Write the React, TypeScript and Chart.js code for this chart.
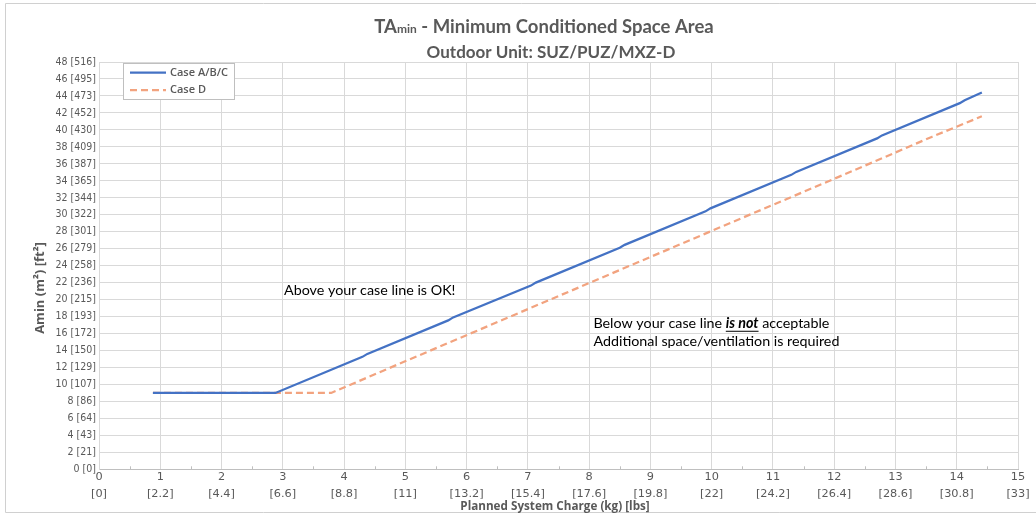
import React, { useEffect, useRef } from 'react';
import { Chart, registerables } from 'chart.js';

Chart.register(...registerables);

// ---- data ----
const chargeABC = [0.88, 2.88, 4.3, 4.38, 5.7, 5.78, 7.05, 7.13, 8.5, 8.58, 9.9, 9.98, 11.3, 11.38, 12.7, 12.78, 14.05, 14.13, 14.41];
const areaABC = [9, 9, 13.25, 13.6, 17.55, 17.9, 21.65, 22.0, 26.1, 26.45, 30.4, 30.75, 34.7, 35.05, 39.0, 39.35, 43.15, 43.5, 44.4];
const chargeD = [0.88, 3.79, 5.2, 6.6, 8.0, 9.4, 10.8, 12.2, 13.6, 14.41];
const areaD = [9, 9, 13.35, 17.65, 21.95, 26.25, 30.55, 34.85, 39.2, 41.6];

const seriesLabels = ['Case A/B/C', 'Case D'];

const xTicksKg = [0, 1, 2, 3, 4, 5, 6, 7, 8, 9, 10, 11, 12, 13, 14, 15];
const xTicksLbs = ['0', '2.2', '4.4', '6.6', '8.8', '11', '13.2', '15.4', '17.6', '19.8', '22', '24.2', '26.4', '28.6', '30.8', '33'];
const yTicksM2 = [0, 2, 4, 6, 8, 10, 12, 14, 16, 18, 20, 22, 24, 26, 28, 30, 32, 34, 36, 38, 40, 42, 44, 46, 48];
const yTicksFt2 = ['0', '21', '43', '64', '86', '107', '129', '150', '172', '193', '215', '236', '258', '279', '301', '322', '344', '365', '387', '409', '430', '452', '473', '495', '516'];

const titleLine1 = [['TA', 'big'], ['min', 'small'], [' - Minimum Conditioned Space Area', 'big']];
const titleLine2 = 'Outdoor Unit: SUZ/PUZ/MXZ-D';
const xTitle = 'Planned System Charge (kg) [lbs]';
const yTitle = 'Amin (m²) [ft²]';
const noteAbove = 'Above your case line is OK!';
const noteBelow1 = ['Below your case line ', 'is not', ' acceptable'];
const noteBelow2 = 'Additional space/ventilation is required';

const BLUE = '#4472C4';
const ORANGE = '#F2A37F';
const GRAY_TEXT = '#595959';
const GRID = '#D9D9D9';

const decorPlugin = {
  id: 'decor',
  beforeDraw(chart: any) {
    const ctx = chart.ctx;
    ctx.save();
    ctx.fillStyle = '#ffffff';
    ctx.fillRect(0, 0, chart.width, chart.height);
    ctx.restore();
  },
  afterDraw(chart: any) {
    const ctx = chart.ctx as CanvasRenderingContext2D;
    const { chartArea } = chart;
    const xs = chart.scales.x;
    const ys = chart.scales.y;
    ctx.save();

    // outer border
    ctx.strokeStyle = '#D0D0D0';
    ctx.lineWidth = 1;
    ctx.beginPath();
    ctx.moveTo(1040, 3.5);
    ctx.lineTo(5.5, 3.5);
    ctx.lineTo(5.5, 512.5);
    ctx.lineTo(1040, 512.5);
    ctx.stroke();

    // minor ticks on x axis
    ctx.strokeStyle = '#BFBFBF';
    ctx.beginPath();
    for (let i = 0; i < xTicksKg.length - 1; i++) {
      const px = Math.round(xs.getPixelForValue(xTicksKg[i] + 0.5)) + 0.5;
      ctx.moveTo(px, chartArea.bottom - 3);
      ctx.lineTo(px, chartArea.bottom);
    }
    ctx.stroke();

    // title
    ctx.fillStyle = GRAY_TEXT;
    ctx.textBaseline = 'alphabetic';
    ctx.textAlign = 'left';
    const fonts: Record<string, string> = {
      big: "bold 18.5px 'Lato'",
      small: "bold 12px 'Lato'",
    };
    let total = 0;
    for (const [t, f] of titleLine1) {
      ctx.font = fonts[f];
      total += ctx.measureText(t).width;
    }
    let tx = 544 - total / 2;
    for (const [t, f] of titleLine1) {
      ctx.font = fonts[f];
      ctx.fillText(t, tx, 33);
      tx += ctx.measureText(t).width;
    }
    ctx.font = "bold 17px 'Lato'";
    ctx.textAlign = 'center';
    ctx.fillText(titleLine2, 551, 58);

    // axis titles
    ctx.font = "bold 11.7px 'Open Sans'";
    ctx.textBaseline = 'middle';
    ctx.fillText(xTitle, 555, 507);
    ctx.save();
    ctx.translate(40, 288);
    ctx.rotate(-Math.PI / 2);
    ctx.font = "bold 13px 'Open Sans'";
    ctx.fillText(yTitle, 0, 0);
    ctx.restore();

    // annotations
    ctx.fillStyle = '#000000';
    ctx.textAlign = 'left';
    ctx.textBaseline = 'middle';
    const noteFont = "14.3px 'Lato'";
    ctx.font = noteFont;
    ctx.fillText(noteAbove, xs.getPixelForValue(3.02), ys.getPixelForValue(21.1));
    let nx = xs.getPixelForValue(8.07);
    const ny = ys.getPixelForValue(17.15);
    noteBelow1.forEach((t, i) => {
      ctx.font = i === 1 ? "italic bold 14.3px 'Lato'" : noteFont;
      ctx.fillText(t, nx, ny);
      const w = ctx.measureText(t).width;
      if (i === 1) {
        ctx.strokeStyle = '#000000';
        ctx.lineWidth = 1;
        ctx.beginPath();
        ctx.moveTo(nx, ny + 7.5);
        ctx.lineTo(nx + w, ny + 7.5);
        ctx.stroke();
      }
      nx += w;
    });
    ctx.font = noteFont;
    ctx.fillText(noteBelow2, xs.getPixelForValue(8.07), ys.getPixelForValue(15.05));

    // legend
    const lx = 123.5, ly = 63.5, lw = 111, lh = 36;
    ctx.fillStyle = '#ffffff';
    ctx.fillRect(lx, ly, lw, lh);
    ctx.strokeStyle = '#BFBFBF';
    ctx.lineWidth = 1;
    ctx.strokeRect(lx, ly, lw, lh);
    chart.data.datasets.forEach((ds: any, i: number) => {
      const yy = 72.5 + i * 17.5;
      ctx.strokeStyle = ds.borderColor;
      ctx.lineWidth = 2.25;
      ctx.setLineDash(ds.borderDash || []);
      ctx.beginPath();
      ctx.moveTo(130, yy);
      ctx.lineTo(166, yy);
      ctx.stroke();
      ctx.setLineDash([]);
      ctx.fillStyle = GRAY_TEXT;
      ctx.font = "600 11px 'Open Sans'";
      ctx.textAlign = 'left';
      ctx.textBaseline = 'middle';
      ctx.fillText(ds.label, 170, yy);
    });

    ctx.restore();
  },
};

export default function App() {
  const ref = useRef<HTMLCanvasElement>(null);
  useEffect(() => {
    if (!ref.current) return;
    const chart = new Chart(ref.current, {
      type: 'line',
      data: {
        datasets: [
          {
            label: seriesLabels[0],
            data: chargeABC.map((x, i) => ({ x, y: areaABC[i] })),
            borderColor: BLUE,
            backgroundColor: BLUE,
            borderWidth: 2.25,
            pointRadius: 0,
            tension: 0,
          },
          {
            label: seriesLabels[1],
            data: chargeD.map((x, i) => ({ x, y: areaD[i] })),
            borderColor: ORANGE,
            backgroundColor: ORANGE,
            borderWidth: 2.25,
            borderDash: [7, 4],
            pointRadius: 0,
            tension: 0,
          },
        ],
      },
      options: {
        responsive: false,
        animation: false,
        layout: { padding: { top: 62, right: 18, left: 0, bottom: 0 } },
        plugins: {
          legend: { display: false },
          title: { display: false },
          tooltip: { enabled: false },
        },
        scales: {
          x: {
            type: 'linear',
            min: 0,
            max: 15,
            afterFit: (s: any) => {
              s.height = 44.7;
            },
            afterBuildTicks: (s: any) => {
              s.ticks = xTicksKg.map((v) => ({ value: v }));
            },
            ticks: {
              autoSkip: false,
              maxRotation: 0,
              padding: 0,
              color: GRAY_TEXT,
              font: { family: "'DejaVu Sans'", size: 11.3, lineHeight: 1.45 },
              callback: (v: any) => {
                const i = xTicksKg.indexOf(Number(v));
                return [String(v), `[${xTicksLbs[i]}]`];
              },
            },
            grid: { color: GRID, drawTicks: false },
            border: { color: '#BFBFBF' },
          },
          y: {
            min: 0,
            max: 48,
            afterFit: (s: any) => {
              s.width = 99;
            },
            afterBuildTicks: (s: any) => {
              s.ticks = yTicksM2.map((v) => ({ value: v }));
            },
            ticks: {
              autoSkip: false,
              padding: 3,
              color: GRAY_TEXT,
              font: { family: "'Liberation Sans Narrow', 'DejaVu Sans Condensed', sans-serif", size: 10.5 },
              callback: (v: any) => {
                const i = yTicksM2.indexOf(Number(v));
                return `${v} [${yTicksFt2[i]}]`;
              },
            },
            grid: { color: GRID, drawTicks: false },
            border: { color: GRID },
          },
        },
      },
      plugins: [decorPlugin],
    } as any);
    return () => chart.destroy();
  }, []);
  return (
    <div style={{ position: 'fixed', left: 0, top: 0, width: 1036, height: 514, background: '#fff' }}>
      <canvas ref={ref} width={1036} height={514} style={{ display: 'block', width: 1036, height: 514 }} />
    </div>
  );
}
